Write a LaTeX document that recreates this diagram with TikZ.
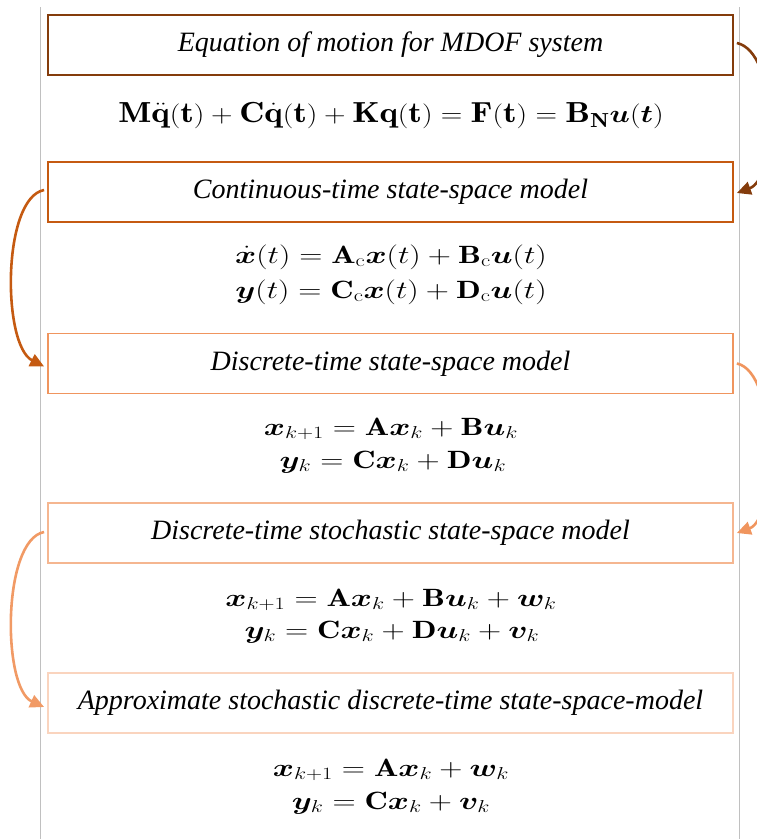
\documentclass[tikz,border=0pt]{standalone}
\usepackage{amsmath}
\usepackage{bm}
\usepackage{fontspec}
\newfontfamily\titlefont{Liberation Serif}
\usetikzlibrary{arrows.meta,calc}
\definecolor{cone}{HTML}{843C0C}
\definecolor{ctwo}{HTML}{C55A11}
\definecolor{cthree}{HTML}{F0955E}
\definecolor{cfour}{HTML}{F5B690}
\definecolor{cfive}{HTML}{FAD4BE}
\definecolor{rulegray}{HTML}{C0C0C0}
\newcommand{\eqwide}[1]{\scalebox{1.29}[1]{#1}}
\newcommand{\eqwidebig}[1]{\scalebox{1.2}[1]{#1}}
\begin{document}
\begin{tikzpicture}[x=1pt,y=-1pt,
  titlebox/.style={draw,line width=1.8pt,minimum width=685pt,minimum height=60pt,inner sep=0pt,
    font=\titlefont\itshape\fontsize{28}{30}\selectfont},
  eqbig/.style={anchor=base,inner sep=0pt,font=\fontsize{29}{32}\selectfont},
  eqline/.style={anchor=base,inner sep=0pt,font=\fontsize{25}{28}\selectfont},
  flow/.style={line width=2.6pt,-{Triangle[length=14pt,width=13pt]}}]
\useasboundingbox (0,0) rectangle (756,839);
\draw[rulegray,line width=1pt] (40,7) -- (40,839);
\draw[rulegray,line width=1pt] (739,7) -- (739,839);

\node[titlebox,cone] (b1) at (390.5,45) {\color{black}Equation of motion for MDOF system};
\node[titlebox,ctwo] (b2) at (390.5,192) {\color{black}Continuous-time state-space model};
\node[titlebox,cthree] (b3) at (390.5,363.5) {\color{black}Discrete-time state-space model};
\node[titlebox,cfour] (b4) at (390.5,533) {\color{black}Discrete-time stochastic state-space model};
\node[titlebox,cfive] (b5) at (390.5,703) {\color{black}Approximate stochastic discrete-time state-space-model};

\node[eqbig] (e1) at (391,122) {\eqwidebig{$\mathbf{M}\ddot{\mathbf{q}}(\mathbf{t})+\mathbf{C}\dot{\mathbf{q}}(\mathbf{t})+\mathbf{K}\mathbf{q}(\mathbf{t})=\mathbf{F}(\mathbf{t})=\mathbf{B}_{\mathbf{N}}\bm{u}(\bm{t})$}};

\node[eqline] (e2a) at (391,263) {\eqwide{$\dot{\bm{x}}(t)=\mathbf{A}_{\mathrm{c}}\bm{x}(t)+\mathbf{B}_{\mathrm{c}}\bm{u}(t)$}};
\node[eqline] (e2b) at (391,298) {\eqwide{$\bm{y}(t)=\mathbf{C}_{\mathrm{c}}\bm{x}(t)+\mathbf{D}_{\mathrm{c}}\bm{u}(t)$}};

\node[eqline] (e3a) at (391,435) {\eqwide{$\bm{x}_{k+1}=\mathbf{A}\bm{x}_k+\mathbf{B}\bm{u}_k$}};
\node[eqline] (e3b) at (393,468) {\eqwide{$\bm{y}_k=\mathbf{C}\bm{x}_k+\mathbf{D}\bm{u}_k$}};

\node[eqline] (e4a) at (391,606) {\eqwide{$\bm{x}_{k+1}=\mathbf{A}\bm{x}_k+\mathbf{B}\bm{u}_k+\bm{w}_k$}};
\node[eqline] (e4b) at (392,638) {\eqwide{$\bm{y}_k=\mathbf{C}\bm{x}_k+\mathbf{D}\bm{u}_k+\bm{v}_k$}};

\node[eqline] (e5a) at (391,776) {\eqwide{$\bm{x}_{k+1}=\mathbf{A}\bm{x}_k+\bm{w}_k$}};
\node[eqline] (e5b) at (391,809) {\eqwide{$\bm{y}_k=\mathbf{C}\bm{x}_k+\bm{v}_k$}};

\draw[flow,cone] ($(b1.east)+(3,-2)$) .. controls (778,52) and (778,178) .. ($(b2.east)+(3,1)$);
\draw[flow,ctwo] ($(b2.west)+(-3,-2)$) .. controls (2,198) and (2,345) .. ($(b3.west)+(-3,3)$);
\draw[flow,cthree] ($(b3.east)+(3,0)$) .. controls (778,372) and (778,518) .. ($(b4.east)+(3,0)$);
\draw[flow,cthree!85!cfour] ($(b4.west)+(-3,-1)$) .. controls (2,540) and (2,688) .. ($(b5.west)+(-3,4)$);
\end{tikzpicture}
\end{document}
